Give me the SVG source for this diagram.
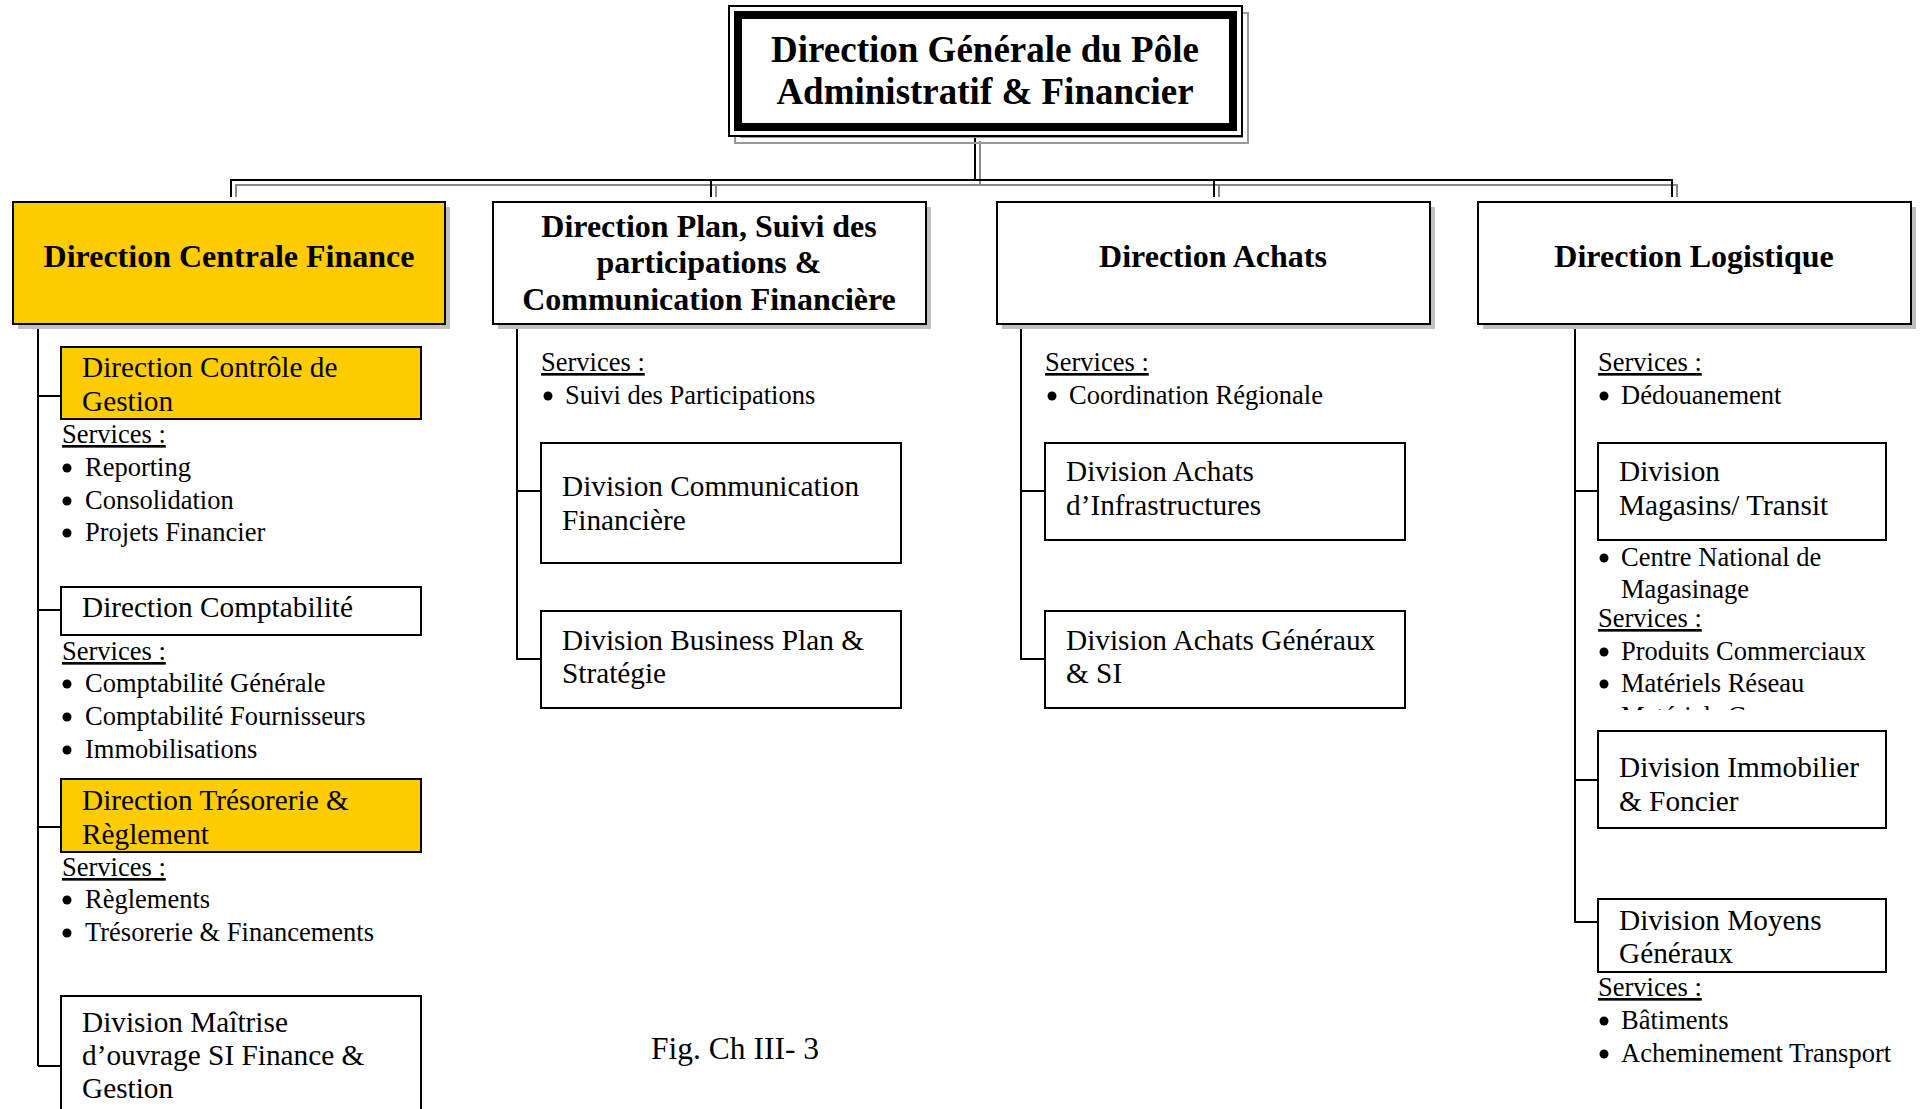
<svg xmlns="http://www.w3.org/2000/svg" width="1923" height="1109" viewBox="0 0 1923 1109">
<style>
text { font-family: "Liberation Serif", "Times New Roman", serif; fill: #000; }
.ttl { font-weight: bold; font-size: 37px; text-anchor: middle; }
.hd { font-weight: bold; font-size: 32px; text-anchor: middle; }
.bx { font-size: 29.3px; }
.it { font-size: 26.5px; }
.u { text-decoration: underline; }
.box { fill: #fff; stroke: #000; stroke-width: 2; }
.yel { fill: #FFCC00; }
.shd { fill: #c0c0c0; }
.ln { stroke: #000; stroke-width: 2; fill: none; }
.lg { stroke: #888; stroke-width: 2; fill: none; }
.cap { font-size: 31.5px; }
</style>
<defs>
<clipPath id="clipMat"><rect x="1590" y="690" width="320" height="20"/></clipPath>
</defs>
<rect width="1923" height="1109" fill="#fff"/>

<!-- connectors -->
<g id="connectors">
  <path class="lg" d="M980,141 V185 M236,197 V185 H1677 V197 M716,185 V197 M1219,185 V197"/>
  <path class="ln" d="M975,136 V180 M231,197 V180 H1672 V197 M711,180 V197 M1214,180 V197"/>
  <path class="ln" d="M38,324 V1066 M38,396 H61 M38,610 H61 M38,827 H61 M38,1066 H61"/>
  <path class="ln" d="M517,324 V659 H541 M517,491 H541"/>
  <path class="ln" d="M1021,324 V659 H1045 M1021,491 H1045"/>
  <path class="ln" d="M1575,324 V922 H1598 M1575,491 H1598 M1575,780 H1598"/>
</g>

<!-- top node -->
<g id="n-dg">
  <rect x="735" y="13" width="513" height="130" fill="none" stroke="#999" stroke-width="2"/>
  <rect x="744" y="22" width="495" height="112" fill="none" stroke="#999" stroke-width="8"/>
  <rect x="729" y="6" width="513" height="130" class="box"/>
  <rect x="738" y="15" width="495" height="112" fill="#fff" stroke="#000" stroke-width="8"/>
  <text class="ttl" x="985" y="62">Direction Générale du Pôle</text>
  <text class="ttl" x="985" y="104">Administratif &amp; Financier</text>
</g>

<!-- level 1 -->
<g id="n-dcf">
  <rect x="18" y="207" width="432" height="122" class="shd"/>
  <rect x="13" y="202" width="432" height="122" class="box yel"/>
  <text class="hd" x="229" y="267">Direction Centrale Finance</text>
</g>
<g id="n-dpsp">
  <rect x="498" y="207" width="433" height="122" class="shd"/>
  <rect x="493" y="202" width="433" height="122" class="box"/>
  <text class="hd" x="709" y="237">Direction Plan, Suivi des</text>
  <text class="hd" x="709" y="273">participations &amp;</text>
  <text class="hd" x="709" y="310">Communication Financière</text>
</g>
<g id="n-da">
  <rect x="1002" y="207" width="433" height="122" class="shd"/>
  <rect x="997" y="202" width="433" height="122" class="box"/>
  <text class="hd" x="1213" y="267">Direction Achats</text>
</g>
<g id="n-dl">
  <rect x="1483" y="207" width="433" height="122" class="shd"/>
  <rect x="1478" y="202" width="433" height="122" class="box"/>
  <text class="hd" x="1694" y="267">Direction Logistique</text>
</g>

<!-- column 1 -->
<g id="n-dcg">
  <rect x="61" y="347" width="360" height="72" class="box yel"/>
  <text class="bx" x="82" y="377">Direction Contrôle de</text>
  <text class="bx" x="82" y="411">Gestion</text>
</g>
<g id="s-dcg">
  <text class="it u" x="62" y="443">Services :</text>
  <circle cx="67" cy="468" r="4.5"/><text class="it" x="85" y="476">Reporting</text>
  <circle cx="67" cy="501" r="4.5"/><text class="it" x="85" y="509">Consolidation</text>
  <circle cx="67" cy="533" r="4.5"/><text class="it" x="85" y="541">Projets Financier</text>
</g>
<g id="n-dcomp">
  <rect x="61" y="587" width="360" height="48" class="box"/>
  <text class="bx" x="82" y="617">Direction Comptabilité</text>
</g>
<g id="s-dcomp">
  <text class="it u" x="62" y="660">Services :</text>
  <circle cx="67" cy="684" r="4.5"/><text class="it" x="85" y="692">Comptabilité Générale</text>
  <circle cx="67" cy="717" r="4.5"/><text class="it" x="85" y="725">Comptabilité Fournisseurs</text>
  <circle cx="67" cy="750" r="4.5"/><text class="it" x="85" y="758">Immobilisations</text>
</g>
<g id="n-dtr">
  <rect x="61" y="779" width="360" height="73" class="box yel"/>
  <text class="bx" x="82" y="810">Direction Trésorerie &amp;</text>
  <text class="bx" x="82" y="844">Règlement</text>
</g>
<g id="s-dtr">
  <text class="it u" x="62" y="876">Services :</text>
  <circle cx="67" cy="900" r="4.5"/><text class="it" x="85" y="908">Règlements</text>
  <circle cx="67" cy="933" r="4.5"/><text class="it" x="85" y="941">Trésorerie &amp; Financements</text>
</g>
<g id="n-dmo">
  <rect x="61" y="996" width="360" height="130" class="box"/>
  <text class="bx" x="82" y="1032">Division Maîtrise</text>
  <text class="bx" x="82" y="1065">d’ouvrage SI Finance &amp;</text>
  <text class="bx" x="82" y="1098">Gestion</text>
</g>

<!-- column 2 -->
<g id="s-dpsp">
  <text class="it u" x="541" y="371">Services :</text>
  <circle cx="548" cy="396" r="4.5"/><text class="it" x="565" y="404">Suivi des Participations</text>
</g>
<g id="n-dcomf">
  <rect x="541" y="443" width="360" height="120" class="box"/>
  <text class="bx" x="562" y="496">Division Communication</text>
  <text class="bx" x="562" y="530">Financière</text>
</g>
<g id="n-dbp">
  <rect x="541" y="611" width="360" height="97" class="box"/>
  <text class="bx" x="562" y="650">Division Business Plan &amp;</text>
  <text class="bx" x="562" y="683">Stratégie</text>
</g>

<!-- column 3 -->
<g id="s-da">
  <text class="it u" x="1045" y="371">Services :</text>
  <circle cx="1052" cy="396" r="4.5"/><text class="it" x="1069" y="404">Coordination Régionale</text>
</g>
<g id="n-dai">
  <rect x="1045" y="443" width="360" height="97" class="box"/>
  <text class="bx" x="1066" y="481">Division Achats</text>
  <text class="bx" x="1066" y="515">d’Infrastructures</text>
</g>
<g id="n-dag">
  <rect x="1045" y="611" width="360" height="97" class="box"/>
  <text class="bx" x="1066" y="650">Division Achats Généraux</text>
  <text class="bx" x="1066" y="683">&amp; SI</text>
</g>

<!-- column 4 -->
<g id="s-dl">
  <text class="it u" x="1598" y="371">Services :</text>
  <circle cx="1604" cy="396" r="4.5"/><text class="it" x="1621" y="404">Dédouanement</text>
</g>
<g id="n-dmt">
  <rect x="1598" y="443" width="288" height="97" class="box"/>
  <text class="bx" x="1619" y="481">Division</text>
  <text class="bx" x="1619" y="515">Magasins/ Transit</text>
</g>
<g id="s-dmt">
  <circle cx="1604" cy="558" r="4.5"/><text class="it" x="1621" y="566">Centre National de</text>
  <text class="it" x="1621" y="598">Magasinage</text>
  <text class="it u" x="1598" y="627">Services :</text>
  <circle cx="1604" cy="652" r="4.5"/><text class="it" x="1621" y="660">Produits Commerciaux</text>
  <circle cx="1604" cy="684" r="4.5"/><text class="it" x="1621" y="692">Matériels Réseau</text>
  <text class="it" x="1621" y="725" clip-path="url(#clipMat)">Matériels G</text>
</g>
<g id="n-dif">
  <rect x="1598" y="731" width="288" height="97" class="box"/>
  <text class="bx" x="1619" y="777">Division Immobilier</text>
  <text class="bx" x="1619" y="811">&amp; Foncier</text>
</g>
<g id="n-dmg">
  <rect x="1598" y="899" width="288" height="73" class="box"/>
  <text class="bx" x="1619" y="930">Division Moyens</text>
  <text class="bx" x="1619" y="963">Généraux</text>
</g>
<g id="s-dmg">
  <text class="it u" x="1598" y="996">Services :</text>
  <circle cx="1604" cy="1021" r="4.5"/><text class="it" x="1621" y="1029">Bâtiments</text>
  <circle cx="1604" cy="1054" r="4.5"/><text class="it" x="1621" y="1062">Acheminement Transport</text>
</g>

<text class="cap" x="651" y="1059">Fig. Ch III- 3</text>
</svg>
